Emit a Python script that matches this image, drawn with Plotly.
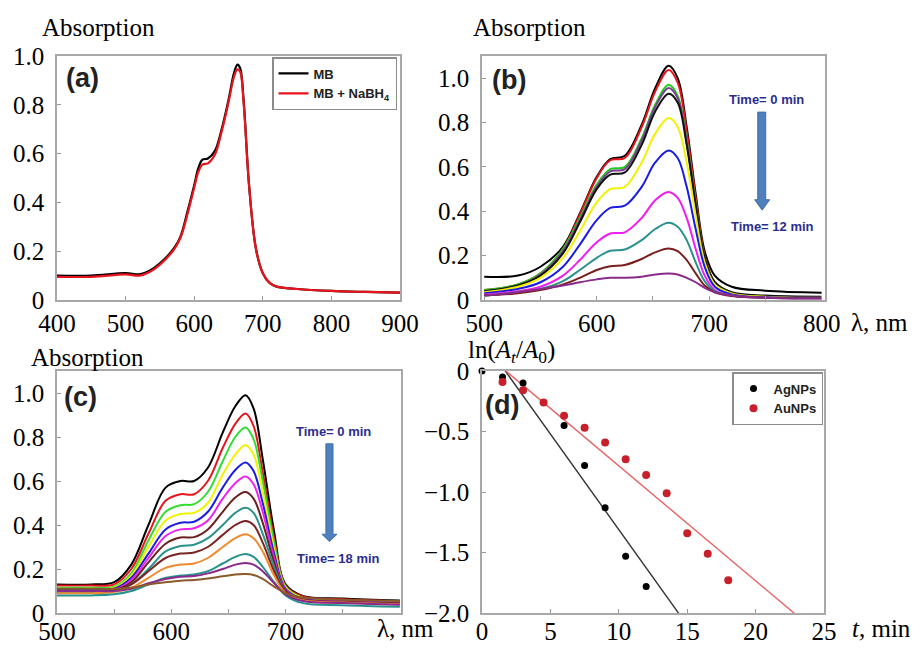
import plotly.graph_objects as go

# ---------------- data ----------------
# Panel (a)
wl_a = [400, 450, 500, 520, 535, 550, 570, 580, 590, 600, 606, 612, 620, 630, 640, 650, 658, 663, 667, 672, 680, 690, 700, 710, 720, 750, 800, 850, 900]
mb = [0.10, 0.10, 0.11, 0.105, 0.12, 0.15, 0.21, 0.26, 0.36, 0.47, 0.54, 0.575, 0.58, 0.61, 0.70, 0.82, 0.93, 0.965, 0.95, 0.82, 0.47, 0.21, 0.11, 0.07, 0.055, 0.045, 0.037, 0.033, 0.03]
mb_nabh4 = [0.095, 0.095, 0.105, 0.10, 0.115, 0.145, 0.205, 0.255, 0.35, 0.46, 0.525, 0.555, 0.56, 0.595, 0.69, 0.81, 0.915, 0.945, 0.935, 0.81, 0.47, 0.21, 0.11, 0.07, 0.055, 0.045, 0.037, 0.033, 0.03]

# Panel (b)
wl_b = [500, 530, 550, 570, 585, 600, 612, 625, 640, 652, 664, 672, 680, 688, 696, 705, 720, 750, 800]
b_curves = [
    [0.105, 0.11, 0.15, 0.24, 0.39, 0.555, 0.635, 0.65, 0.79, 0.955, 1.056, 1.00, 0.78, 0.48, 0.22, 0.11, 0.06, 0.042, 0.033],
    [0.045, 0.07, 0.12, 0.23, 0.385, 0.55, 0.63, 0.64, 0.78, 0.94, 1.037, 0.98, 0.76, 0.46, 0.20, 0.08, 0.03, 0.015, 0.01],
    [0.045, 0.07, 0.12, 0.23, 0.37, 0.52, 0.59, 0.60, 0.73, 0.88, 0.97, 0.92, 0.72, 0.44, 0.19, 0.075, 0.03, 0.015, 0.01],
    [0.04, 0.065, 0.115, 0.22, 0.36, 0.51, 0.58, 0.59, 0.72, 0.87, 0.956, 0.91, 0.71, 0.43, 0.19, 0.075, 0.03, 0.015, 0.01],
    [0.04, 0.065, 0.11, 0.21, 0.35, 0.50, 0.565, 0.575, 0.70, 0.85, 0.93, 0.89, 0.70, 0.43, 0.19, 0.08, 0.035, 0.02, 0.015],
    [0.035, 0.06, 0.10, 0.19, 0.31, 0.44, 0.50, 0.51, 0.62, 0.75, 0.82, 0.78, 0.62, 0.38, 0.17, 0.07, 0.03, 0.015, 0.01],
    [0.03, 0.05, 0.08, 0.15, 0.25, 0.36, 0.415, 0.425, 0.51, 0.62, 0.674, 0.64, 0.51, 0.32, 0.15, 0.06, 0.025, 0.012, 0.01],
    [0.025, 0.04, 0.06, 0.11, 0.18, 0.26, 0.30, 0.305, 0.37, 0.45, 0.487, 0.46, 0.37, 0.23, 0.11, 0.045, 0.02, 0.01, 0.008],
    [0.02, 0.035, 0.05, 0.085, 0.135, 0.19, 0.222, 0.228, 0.27, 0.32, 0.348, 0.33, 0.27, 0.17, 0.085, 0.04, 0.02, 0.01, 0.008],
    [0.02, 0.03, 0.045, 0.07, 0.10, 0.135, 0.152, 0.158, 0.185, 0.215, 0.232, 0.22, 0.18, 0.12, 0.065, 0.035, 0.018, 0.01, 0.008],
    [0.02, 0.035, 0.05, 0.065, 0.08, 0.093, 0.10, 0.10, 0.105, 0.115, 0.12, 0.115, 0.10, 0.08, 0.055, 0.035, 0.02, 0.01, 0.008],
]
b_colors = ["#000000", "#e8141c", "#22cc22", "#7b3f8f", "#111111", "#f2f200", "#1c1ce0", "#f01cf0", "#2a928c", "#7a1e1e", "#8a2a8a"]

# Panel (c)
wl_c = [500, 530, 550, 565, 580, 595, 608, 620, 632, 645, 656, 665, 672, 680, 690, 700, 715, 750, 800]
c_curves = [
    [0.13, 0.13, 0.14, 0.22, 0.40, 0.57, 0.60, 0.60, 0.66, 0.82, 0.94, 0.99, 0.93, 0.70, 0.37, 0.13, 0.078, 0.066, 0.057],
    [0.125, 0.125, 0.13, 0.20, 0.36, 0.51, 0.54, 0.54, 0.60, 0.75, 0.86, 0.907, 0.85, 0.64, 0.34, 0.125, 0.075, 0.062, 0.053],
    [0.115, 0.115, 0.12, 0.18, 0.33, 0.46, 0.49, 0.495, 0.55, 0.69, 0.80, 0.843, 0.79, 0.60, 0.32, 0.12, 0.07, 0.058, 0.05],
    [0.11, 0.11, 0.115, 0.17, 0.30, 0.42, 0.45, 0.455, 0.50, 0.63, 0.72, 0.764, 0.72, 0.55, 0.29, 0.115, 0.068, 0.056, 0.048],
    [0.105, 0.105, 0.11, 0.16, 0.27, 0.38, 0.41, 0.415, 0.46, 0.57, 0.65, 0.684, 0.645, 0.50, 0.27, 0.11, 0.065, 0.054, 0.046],
    [0.10, 0.10, 0.105, 0.15, 0.25, 0.35, 0.38, 0.385, 0.42, 0.52, 0.59, 0.62, 0.585, 0.46, 0.25, 0.105, 0.062, 0.052, 0.044],
    [0.10, 0.10, 0.105, 0.14, 0.23, 0.315, 0.343, 0.345, 0.38, 0.46, 0.525, 0.55, 0.52, 0.41, 0.23, 0.10, 0.06, 0.05, 0.043],
    [0.095, 0.095, 0.10, 0.13, 0.20, 0.28, 0.305, 0.31, 0.34, 0.40, 0.455, 0.478, 0.455, 0.36, 0.21, 0.095, 0.058, 0.048, 0.04],
    [0.10, 0.10, 0.105, 0.13, 0.19, 0.25, 0.27, 0.275, 0.30, 0.355, 0.40, 0.418, 0.40, 0.32, 0.19, 0.095, 0.06, 0.05, 0.042],
    [0.09, 0.09, 0.095, 0.115, 0.16, 0.205, 0.22, 0.225, 0.25, 0.30, 0.34, 0.358, 0.34, 0.28, 0.17, 0.09, 0.058, 0.048, 0.04],
    [0.08, 0.08, 0.085, 0.10, 0.13, 0.16, 0.17, 0.175, 0.19, 0.225, 0.255, 0.268, 0.255, 0.21, 0.14, 0.08, 0.045, 0.035, 0.028],
    [0.10, 0.10, 0.10, 0.11, 0.135, 0.155, 0.165, 0.168, 0.18, 0.20, 0.22, 0.227, 0.22, 0.19, 0.135, 0.085, 0.055, 0.045, 0.038],
    [0.11, 0.11, 0.11, 0.115, 0.13, 0.14, 0.147, 0.15, 0.157, 0.167, 0.175, 0.177, 0.173, 0.155, 0.12, 0.09, 0.07, 0.06, 0.055],
]
c_colors = ["#000000", "#e8141c", "#33dd33", "#f2f200", "#1c1ce0", "#ee22ee", "#6b2020", "#2a928c", "#7a2424", "#f08a30", "#2a928c", "#8a2a8a", "#8a5a2a"]

# Panel (d)
t_ag = [0, 1.5, 3, 6, 7.5, 9, 10.5, 12]
ln_ag = [0, -0.05, -0.10, -0.45, -0.78, -1.13, -1.53, -1.78]
t_au = [1.5, 3, 4.5, 6, 7.5, 9, 10.5, 12, 13.5, 15, 16.5, 18]
ln_au = [-0.09, -0.16, -0.26, -0.37, -0.47, -0.59, -0.73, -0.86, -1.01, -1.34, -1.51, -1.73]
fit_t = [0, 25]
ag_slope, ag_icpt = -0.158, 0.269
au_slope, au_icpt = -0.095, 0.166

# ---------------- figure ----------------
# the page places the plot 8 px from the window's top-left corner (body margin);
# keep the figure small enough that the page does not overflow the window
OFF = 8
W, H = 922 - 2 * OFF, 650 - 2 * OFF
def PX(x):
    return (x - OFF) / W
def PY(y):
    return 1 - (y - OFF) / H
def px(x0, x1):
    return [PX(x0), PX(x1)]
def py(top, bot):
    return [PY(bot), PY(top)]

fig = go.Figure()
SERIF = "Liberation Serif"
SANS = "Liberation Sans"

fig.add_trace(go.Scatter(x=wl_a, y=mb, mode="lines", line=dict(color="#000000", width=2.2, shape="spline"),
                         name="<b>MB</b>", xaxis="x", yaxis="y", legend="legend"))
fig.add_trace(go.Scatter(x=wl_a, y=mb_nabh4, mode="lines", line=dict(color="#e8141c", width=2.2, shape="spline"),
                         name="<b>MB + NaBH<sub>4</sub></b>", xaxis="x", yaxis="y", legend="legend"))

for vals, col in zip(b_curves, b_colors):
    fig.add_trace(go.Scatter(x=wl_b, y=vals, mode="lines", line=dict(color=col, width=2, shape="spline"),
                             xaxis="x2", yaxis="y2", showlegend=False))
for vals, col in zip(c_curves, c_colors):
    fig.add_trace(go.Scatter(x=wl_c, y=vals, mode="lines", line=dict(color=col, width=2, shape="spline"),
                             xaxis="x3", yaxis="y3", showlegend=False))

fig.add_trace(go.Scatter(x=fit_t, y=[ag_slope * t + ag_icpt for t in fit_t], mode="lines",
                         line=dict(color="#333333", width=1.4), xaxis="x4", yaxis="y4", showlegend=False))
fig.add_trace(go.Scatter(x=fit_t, y=[au_slope * t + au_icpt for t in fit_t], mode="lines",
                         line=dict(color="#e86464", width=1.4), xaxis="x4", yaxis="y4", showlegend=False))
fig.add_trace(go.Scatter(x=t_ag, y=ln_ag, mode="markers", marker=dict(color="#000000", size=7),
                         name="<b>AgNPs</b>", xaxis="x4", yaxis="y4", legend="legend2", cliponaxis=False))
fig.add_trace(go.Scatter(x=t_au, y=ln_au, mode="markers", marker=dict(color="#c8202a", size=8),
                         name="<b>AuNPs</b>", xaxis="x4", yaxis="y4", legend="legend2", cliponaxis=False))

frame = dict(showline=True, linecolor="#a8a8a8", linewidth=1.5, mirror=True, showgrid=False, zeroline=False,
             ticks="inside", ticklen=4, tickcolor="#999999", automargin=False,
             tickfont=dict(family=SERIF, size=25, color="#000000"))
yframe = dict(frame, ticklabelstandoff=6)
xlow = dict(frame, ticklabelstandoff=-5)

fig.update_layout(
    width=W, height=H, margin=dict(l=0, r=0, t=0, b=0, autoexpand=False),
    paper_bgcolor="white", plot_bgcolor="white", showlegend=True,
    xaxis=dict(domain=px(57, 400), range=[400, 900], tickvals=[400, 500, 600, 700, 800, 900], anchor="y", **frame),
    yaxis=dict(domain=py(56, 300), range=[0, 1.0], tickvals=[0, 0.2, 0.4, 0.6, 0.8, 1.0],
               ticktext=["0", "0.2", "0.4", "0.6", "0.8", "1.0"], anchor="x", **yframe),
    xaxis2=dict(domain=px(482, 825), range=[498, 803], tickvals=[500, 550, 600, 650, 700, 750, 800],
                ticktext=["500", "", "600", "", "700", "", "800"], anchor="y2", **frame),
    yaxis2=dict(domain=py(56, 300), range=[0, 1.1], tickvals=[0, 0.2, 0.4, 0.6, 0.8, 1.0],
                ticktext=["0", "0.2", "0.4", "0.6", "0.8", "1.0"], anchor="x2", **yframe),
    xaxis3=dict(domain=px(57, 401), range=[500, 801], tickvals=[500, 550, 600, 650, 700, 750],
                ticktext=["500", "", "600", "", "700", ""], anchor="y3", **xlow),
    yaxis3=dict(domain=py(371, 613), range=[0, 1.1], tickvals=[0, 0.2, 0.4, 0.6, 0.8, 1.0],
                ticktext=["0", "0.2", "0.4", "0.6", "0.8", "1.0"], anchor="x3", **yframe),
    xaxis4=dict(domain=px(482, 824), range=[0, 25], tickvals=[0, 5, 10, 15, 20, 25], anchor="y4", **xlow),
    yaxis4=dict(domain=py(371, 613), range=[-2.0, 0], tickvals=[0, -0.5, -1.0, -1.5, -2.0],
                ticktext=["0", "\u22120.5", "\u22121.0", "\u22121.5", "\u22122.0"], anchor="x4", **yframe),
    legend=dict(x=PX(397), y=PY(57), xanchor="right", yanchor="top", bgcolor="white",
                bordercolor="#8c8c8c", borderwidth=1.5, font=dict(family=SANS, size=13, color="#222"),
                itemwidth=30, tracegroupgap=0),
    legend2=dict(x=PX(823), y=PY(372), xanchor="right", yanchor="top", bgcolor="white",
                 bordercolor="#8c8c8c", borderwidth=1.5, font=dict(family=SANS, size=13, color="#222"),
                 itemwidth=30),
)

ann = []
def A(text, x, y, size=25, family=SERIF, color="#000", xanchor="center", xref="paper", yref="paper"):
    ann.append(dict(text=text, x=x, y=y, xref=xref, yref=yref, showarrow=False, xanchor=xanchor, yanchor="middle",
                    font=dict(family=family, size=size, color=color)))

A("Absorption", PX(40), PY(27), xanchor="left")
A("Absorption", PX(471), PY(27), xanchor="left")
A("Absorption", PX(29), PY(357), xanchor="left")
A("ln(<i>A</i><sub><i>t</i></sub>/<i>A</i><sub>0</sub>)", PX(466), PY(351), xanchor="left")
A("\u03bb, nm", PX(879), PY(322))
A("\u03bb, nm", PX(405), PY(628))
A("<i>t</i>, min", PX(913), PY(628), xanchor="right")
A("<b>(a)</b>", PX(82), PY(78), size=27, family=SANS, color="#222")
A("<b>(b)</b>", PX(509), PY(80), size=27, family=SANS, color="#222")
A("<b>(c)</b>", PX(80), PY(397), size=27, family=SANS, color="#222")
A("<b>(d)</b>", PX(502), PY(405), size=27, family=SANS, color="#222")
NAVY = "#2b2e8c"
A("<b>Time= 0 min</b>", 751, 0.906, size=13, family=SANS, color=NAVY, xref="x2", yref="y2")
A("<b>Time= 12 min</b>", 756, 0.33, size=13, family=SANS, color=NAVY, xref="x2", yref="y2")
A("<b>Time= 0 min</b>", 741.5, 0.826, size=13, family=SANS, color=NAVY, xref="x3", yref="y3")
A("<b>Time= 18 min</b>", 746, 0.25, size=13, family=SANS, color=NAVY, xref="x3", yref="y3")
fig.update_layout(annotations=ann)

ARROW = "#4f7fbd"
def arrow_path(xl, xr, xtl, xtr, ytop, yneck, ytip):
    xm = (xtl + xtr) / 2
    return (f"M {xl},{ytop} L {xr},{ytop} L {xr},{yneck} L {xtr},{yneck} L {xm},{ytip} "
            f"L {xtl},{yneck} L {xl},{yneck} Z")

fig.add_shape(type="path", xref="x2", yref="y2",
              path=arrow_path(743.2, 750.3, 740.5, 753.8, 0.847, 0.452, 0.405),
              fillcolor=ARROW, line=dict(color="#3f6fa8", width=1))
fig.add_shape(type="path", xref="x3", yref="y3",
              path=arrow_path(735.3, 741.5, 731.8, 745.0, 0.769, 0.358, 0.325),
              fillcolor=ARROW, line=dict(color="#3f6fa8", width=1))

fig.write_html("out.html")
